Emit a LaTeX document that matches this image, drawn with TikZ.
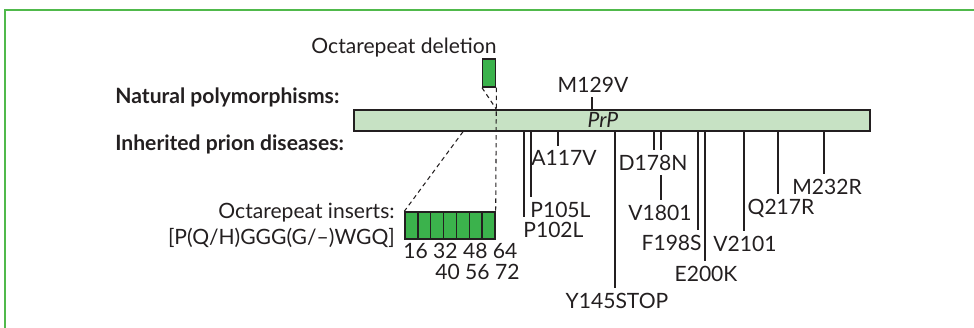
\documentclass[tikz,border=0pt]{standalone}
\usepackage{fontspec}
\setmainfont{Lato}
\usetikzlibrary{positioning}
\definecolor{framegreen}{RGB}{80,185,75}
\definecolor{barfill}{RGB}{199,226,196}
\definecolor{boxgreen}{RGB}{59,178,76}
\definecolor{inkgray}{RGB}{35,31,32}

\begin{document}
\begin{tikzpicture}[x=0.02cm,y=-0.02cm,
      every node/.style={text=inkgray,font=\fontsize{12}{14}\selectfont},
      hdr/.style={font=\fontsize{12}{14}\selectfont\bfseries,anchor=base west,inner sep=0pt},
      mut/.style={inner xsep=0pt,inner ysep=2.5pt},
      mutline/.style={draw=inkgray,line width=0.6pt},
      bar/.style={draw=inkgray,line width=0.8pt,fill=barfill,minimum width=10.32cm,minimum height=0.42cm,inner sep=0pt},
      cell/.style={draw=inkgray,line width=0.8pt,fill=boxgreen,minimum width=0.2571cm,minimum height=0.54cm,inner sep=0pt},
      zoomline/.style={draw=inkgray,line width=0.6pt,dash pattern=on 2.5pt off 2pt},
    ]
      \useasboundingbox (0,0) rectangle (974,328);
      % Frame (only top and left edges are inside the page)
      \draw[framegreen,line width=1.1pt] (990,10) -| (5,340);

      % Row headers
      \node[hdr] (natural) at (115,103) {Natural polymorphisms:};
      \node[hdr] (inherited) at (115,150) {Inherited prion diseases:};

      % PrP bar
      \node[bar] (prp) at (612,120.5) {};
      \node[font=\fontsize{12}{14}\selectfont\itshape] (prpname) at (603,120) {PrP};

      % Octarepeat deletion
      \node[anchor=base,inner sep=0pt] (dellbl) at (404,53) {Octarepeat deletion};
      \node[cell,minimum width=0.26cm,minimum height=0.56cm] (del) at (489.2,73) {};

      % Octarepeat inserts
      \foreach \i in {0,...,6}
        \node[cell] (c\i) at ({411.43+12.857*\i},225.5) {};
      \node[anchor=base east,inner sep=0pt] (inslbl) at (395,218) {Octarepeat inserts:};
      \node[anchor=base east,inner sep=0pt] (insseq) at (395,244) {[P(Q/H)GGG(G/--)WGQ]};
      \node[anchor=base west,inner sep=0pt] (nums1) at (403,258) {16 32 48 64};
      \node[anchor=base west,inner sep=0pt] (nums2) at (435,279) {40 56 72};

      \draw[zoomline] (del.south west) -- (prp.north -| del.south east);
      \draw[zoomline] (del.south east) -- (c6.north east);
      \draw[zoomline] (prp.south -| 463,0) -- (c0.north west);

      % Natural polymorphism
      \node[mut,anchor=south] (m129v) at (593,97) {M129V};
      \draw[mutline] (prp.north -| 592,0) -- (m129v.south -| 592,0);

      % Inherited mutations
      \foreach \x/\ax/\ye/\a/\n/\t in {
          524/523/217/north west/p102l/P102L,
          531/530/197/north west/p105l/P105L,
          558/564/146/north/a117v/A117V,
          615/617/288/north/y145stop/Y145STOP,
          698/702/230/north east/f198s/F198S,
          705/706/261/north/e200k/E200K,
          744/745/231/north/v2101/V2101,
          778/781/194/north/q217r/Q217R,
          824/827/174/north/m232r/M232R}{
        \node[mut,anchor=\a] (\n) at (\ax,\ye) {\t};
        \draw[mutline] (prp.south -| \x,0) -- (\n.\a -| \x,0);
      }
      \node[mut,anchor=north] (d178n) at (653,150) {D178N};
      \node[mut,anchor=north] (v1801) at (660,200) {V1801};
      \draw[mutline] (prp.south -| 654,0) -- (d178n.north -| 654,0);
      \draw[mutline] (prp.south -| 661,0) -- (d178n.north -| 661,0);
      \draw[mutline] (d178n.south -| 661,0) -- (v1801.north -| 661,0);
\end{tikzpicture}
\end{document}
